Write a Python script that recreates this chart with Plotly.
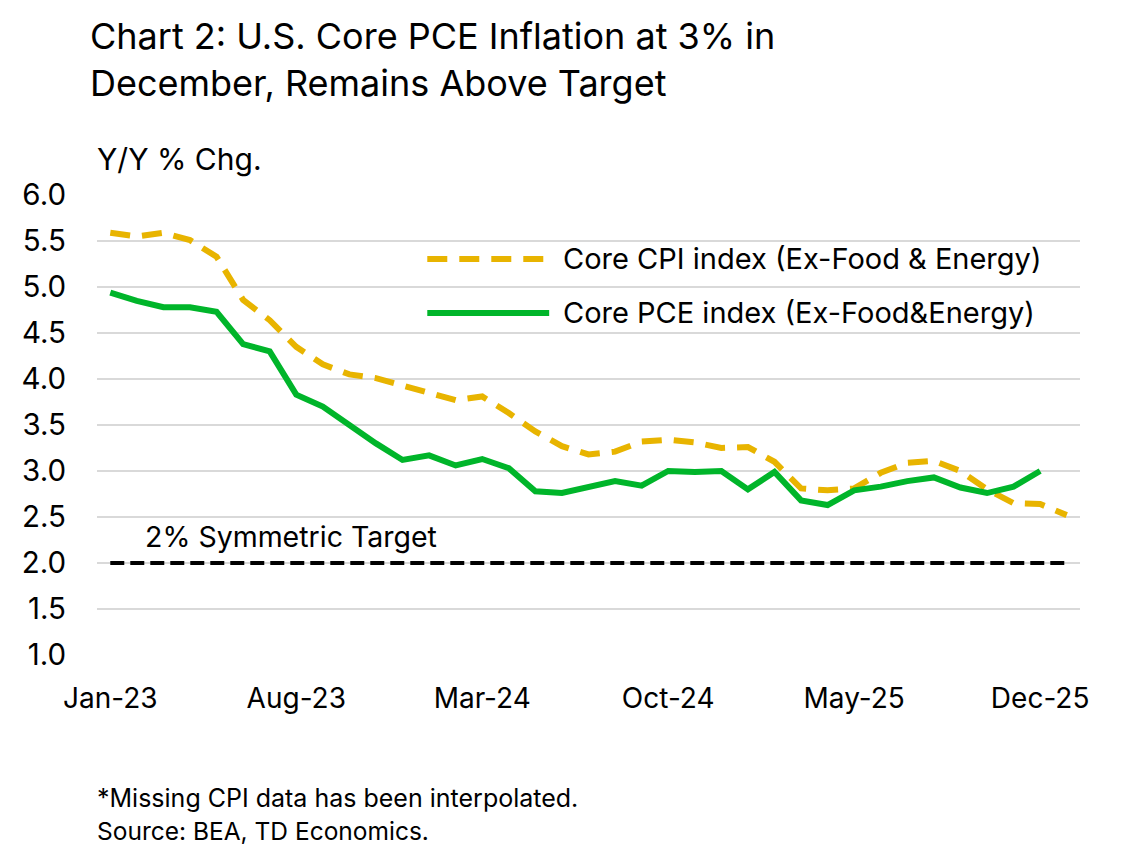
import pandas as pd
import plotly.graph_objects as go

# monthly observations, Jan-23 onward (CPI runs one month longer, to Jan-26)
months = pd.date_range("2023-01-01", periods=37, freq="MS").strftime("%b-%y").tolist()

core_cpi = [5.59, 5.55, 5.59, 5.51, 5.33, 4.86, 4.64, 4.35, 4.16, 4.05, 4.01, 3.93,
            3.86, 3.77, 3.81, 3.63, 3.43, 3.27, 3.18, 3.21, 3.32, 3.34, 3.31, 3.25,
            3.26, 3.10, 2.81, 2.79, 2.81, 2.98, 3.09, 3.11, 3.00, 2.80, 2.65, 2.64,
            2.52]
core_pce = [4.94, 4.85, 4.78, 4.78, 4.73, 4.38, 4.30, 3.83, 3.70, 3.50, 3.30, 3.12,
            3.17, 3.06, 3.13, 3.03, 2.78, 2.76, 2.82, 2.89, 2.84, 3.00, 2.99, 3.00,
            2.80, 2.99, 2.68, 2.63, 2.79, 2.83, 2.89, 2.93, 2.82, 2.76, 2.83, 3.00]
target = 2.0
tick_labels = ["Jan-23", "Aug-23", "Mar-24", "Oct-24", "May-25", "Dec-25"]

GOLD = "#E8B400"
GREEN = "#00B52A"
FONT = "Inter"
CPI_DASH = "20px,12px"

fig = go.Figure()
fig.add_trace(go.Scatter(x=[months[0], months[-1]], y=[target, target], mode="lines",
                         line=dict(color="black", width=4, dash="14px,6px"),
                         showlegend=False, hoverinfo="skip"))
fig.add_trace(go.Scatter(x=months[:len(core_cpi)], y=core_cpi, mode="lines",
                         name="Core CPI index (Ex-Food & Energy)",
                         line=dict(color=GOLD, width=6, dash=CPI_DASH), showlegend=False))
fig.add_trace(go.Scatter(x=months[:len(core_pce)], y=core_pce, mode="lines",
                         name="Core PCE index (Ex-Food&Energy)",
                         line=dict(color=GREEN, width=6), showlegend=False))

# hand-drawn legend (long keys like the original)
legend_rows = [("Core CPI index (Ex-Food & Energy)", GOLD, CPI_DASH, 0.861),
               ("Core PCE index (Ex-Food&Energy)", GREEN, "solid", 0.7435)]
for label, color, dash, yy in legend_rows:
    fig.add_shape(type="line", xref="paper", yref="paper", x0=0.336, x1=0.46, y0=yy, y1=yy,
                  line=dict(color=color, width=6, dash=dash))
    fig.add_annotation(text=label, xref="paper", yref="paper", x=0.472, y=yy,
                       xanchor="left", yanchor="middle", showarrow=False,
                       font=dict(size=29, color="black", family=FONT))

fig.add_annotation(text="2% Symmetric Target", xref="paper", yref="paper", x=0.047, y=0.257,
                   xanchor="left", yanchor="middle", showarrow=False,
                   font=dict(size=28.5, color="black", family=FONT))
fig.add_annotation(text="Y/Y % Chg.", xref="paper", yref="paper", x=-0.002, y=1.078,
                   xanchor="left", yanchor="middle", showarrow=False,
                   font=dict(size=30, color="black", family=FONT))
fig.add_annotation(text="*Missing CPI data has been interpolated.", xref="paper", yref="paper",
                   x=-0.002, y=-0.311, xanchor="left", yanchor="middle", showarrow=False,
                   font=dict(size=25, color="black", family=FONT))
fig.add_annotation(text="Source: BEA, TD Economics.", xref="paper", yref="paper",
                   x=-0.002, y=-0.383, xanchor="left", yanchor="middle", showarrow=False,
                   font=dict(size=24.5, color="black", family=FONT))

# page body has an 8px margin, so the figure is sized/shifted to land where the original sits
fig.update_layout(
    width=1131, height=842,
    margin=dict(l=89, r=59, t=187, b=195),
    paper_bgcolor="white", plot_bgcolor="white",
    font=dict(family=FONT, color="black"),
    title=dict(text="Chart 2: U.S. Core PCE Inflation at 3% in<br>December, Remains Above Target",
               x=82 / 1131, xanchor="left", xref="container",
               y=1 - 41 / 842, yanchor="middle", yref="container",
               font=dict(size=36, color="black", family=FONT)),
)
fig.update_xaxes(type="category", categoryorder="array", categoryarray=months,
                 range=[-0.5, 36.5], showgrid=False, zeroline=False,
                 tickmode="array", tickvals=tick_labels, ticktext=tick_labels,
                 ticks="", tickfont=dict(size=28), ticklabelstandoff=24)
fig.update_yaxes(range=[0.999, 6.001], dtick=0.5, tickformat=".1f", showgrid=True,
                 gridcolor="#D9D9D9", gridwidth=2, zeroline=False, ticks="",
                 tickfont=dict(size=29.5), ticklabelstandoff=30)

fig.write_html("out.html")
